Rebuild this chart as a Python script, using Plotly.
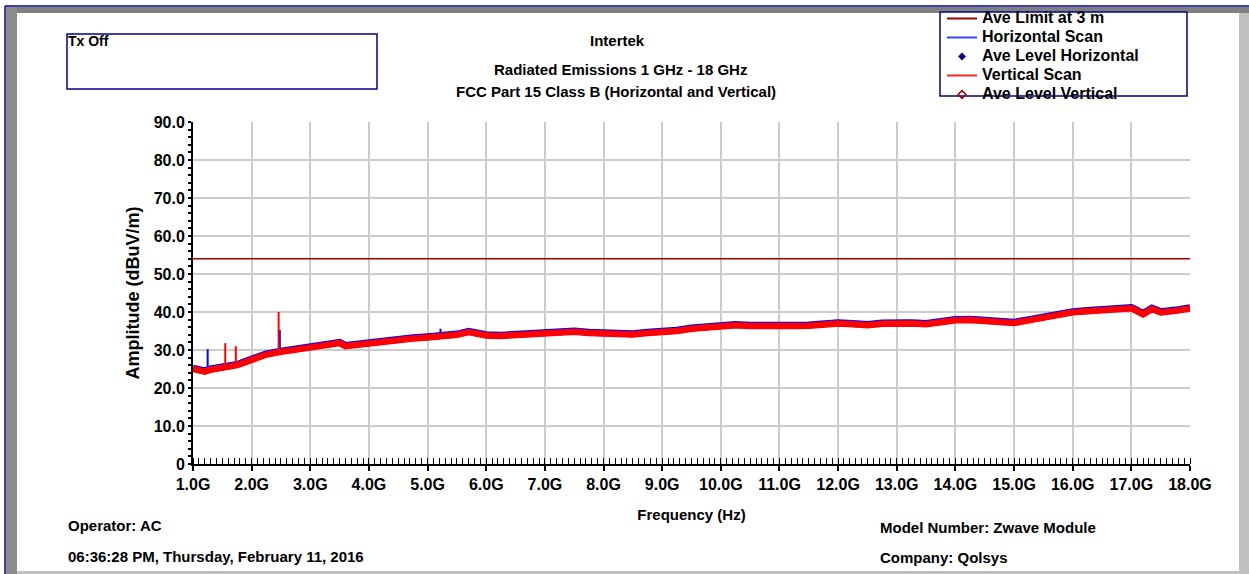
import plotly.graph_objects as go

# frequency points (GHz)
freq_ghz = [1.0, 1.1, 1.2, 1.3, 1.5, 1.75, 2.0, 2.25, 2.5, 2.75,
            3.0, 3.25, 3.5, 3.6, 3.75, 4.0, 4.25, 4.5, 4.75,
            5.0, 5.25, 5.5, 5.7, 6.0, 6.25, 6.5, 6.75,
            7.0, 7.25, 7.5, 7.75, 8.0, 8.25, 8.5, 8.75,
            9.0, 9.25, 9.5, 9.75, 10.0, 10.25, 10.5, 10.75,
            11.0, 11.25, 11.5, 11.75, 12.0, 12.25, 12.5, 12.75,
            13.0, 13.25, 13.5, 13.75, 14.0, 14.25, 14.5, 14.75,
            15.0, 15.25, 15.5, 15.75, 16.0, 16.25, 16.5, 16.75,
            17.0, 17.1, 17.2, 17.35, 17.5, 17.75, 18.0]

vert_dbuv = [25.0, 24.6, 24.3, 24.8, 25.2, 26.0, 27.4, 28.8, 29.5, 30.0,
             30.6, 31.0, 31.8, 31.0, 31.3, 31.9, 32.3, 32.8, 33.0,
             33.3, 33.6, 34.0, 34.7, 33.8, 33.7, 34.0, 34.3,
             34.5, 34.6, 34.8, 34.5, 34.4, 34.3, 34.1, 34.5,
             34.6, 35.0, 35.6, 36.0, 36.4, 36.5, 36.3, 36.2,
             36.1, 36.3, 36.4, 36.7, 37.0, 36.8, 36.5, 36.9,
             37.1, 37.0, 36.8, 37.4, 37.8, 37.9, 37.6, 37.3,
             37.1, 37.8, 38.6, 39.3, 39.9, 40.2, 40.4, 40.6,
             41.0, 40.2, 39.4, 40.8, 39.9, 40.3, 40.9]

horiz_dbuv = [25.2, 24.8, 24.5, 25.0, 25.4, 26.2, 27.6, 29.0, 29.7, 30.2,
              30.8, 31.2, 32.0, 31.2, 31.5, 32.1, 32.5, 33.0, 33.2,
              33.5, 33.8, 34.2, 34.9, 34.0, 33.9, 34.2, 34.5,
              34.7, 34.8, 35.0, 34.7, 34.6, 34.5, 34.3, 34.7,
              34.8, 35.2, 35.8, 36.2, 36.6, 36.7, 36.5, 36.4,
              36.3, 36.5, 36.6, 36.9, 37.2, 37.0, 36.7, 37.1,
              37.3, 37.2, 37.0, 37.6, 38.0, 38.1, 37.8, 37.5,
              37.3, 38.0, 38.8, 39.5, 40.1, 40.4, 40.6, 40.8,
              41.2, 40.4, 39.6, 41.0, 40.1, 40.5, 41.1]

# narrow spurs sticking out of the scans
vert_spike_ghz = [1.55, 1.73, 2.46]
vert_spike_base = [25.2, 25.9, 29.3]
vert_spike_peak = [31.8, 31.0, 40.0]
horiz_spike_ghz = [1.25, 2.48, 5.22]
horiz_spike_base = [24.6, 29.6, 33.8]
horiz_spike_peak = [30.2, 35.3, 35.6]

limit_ghz = [1.0, 18.0]
limit_dbuv = [54.0, 54.0]

x_ticks = list(range(1, 19))
x_labels = ["%.1fG" % v for v in x_ticks]
y_ticks = [0, 10, 20, 30, 40, 50, 60, 70, 80, 90]
y_labels = ["0"] + ["%.1f" % v for v in y_ticks[1:]]

# plot area in pixels
L, R, T, B = 193, 1190, 122, 464


def px(x):
    return (x - L) / (R - L)


def py(y):
    return (B - y) / (B - T)


FONT = "Liberation Sans, Arial, sans-serif"


def spike_xy(fs, lo, hi):
    xs, ys = [], []
    for f, a, b in zip(fs, lo, hi):
        xs += [f, f, None]
        ys += [a, b, None]
    return xs, ys


fig = go.Figure()

fig.add_trace(go.Scatter(x=freq_ghz, y=horiz_dbuv, mode="lines",
                         line=dict(color="#0000ff", width=7),
                         showlegend=False, hoverinfo="skip"))
hx, hy = spike_xy(horiz_spike_ghz, horiz_spike_base, horiz_spike_peak)
fig.add_trace(go.Scatter(x=hx, y=hy, mode="lines",
                         line=dict(color="#0000ff", width=2),
                         showlegend=False, hoverinfo="skip"))
fig.add_trace(go.Scatter(x=freq_ghz, y=vert_dbuv, mode="lines",
                         line=dict(color="#ff0000", width=6.5),
                         showlegend=False, hoverinfo="skip"))
vx, vy = spike_xy(vert_spike_ghz, vert_spike_base, vert_spike_peak)
fig.add_trace(go.Scatter(x=vx, y=vy, mode="lines",
                         line=dict(color="#ff0000", width=2),
                         showlegend=False, hoverinfo="skip"))
fig.add_trace(go.Scatter(x=limit_ghz, y=limit_dbuv, mode="lines",
                         line=dict(color="#990000", width=1.5),
                         showlegend=False, hoverinfo="skip"))


# legend entries
def leg(name):
    return "<span style='font-size:16px'>%s</span>" % name


fig.add_trace(go.Scatter(x=[None], y=[None], mode="lines", name=leg("Ave Limit at 3 m"),
                         line=dict(color="#990000", width=2)))
fig.add_trace(go.Scatter(x=[None], y=[None], mode="lines", name=leg("Horizontal Scan"),
                         line=dict(color="#3344ff", width=2)))
fig.add_trace(go.Scatter(x=[None], y=[None], mode="markers", name=leg("Ave Level Horizontal"),
                         marker=dict(symbol="diamond", color="#00008b", size=6)))
fig.add_trace(go.Scatter(x=[None], y=[None], mode="lines", name=leg("Vertical Scan"),
                         line=dict(color="#ff2222", width=2)))
fig.add_trace(go.Scatter(x=[None], y=[None], mode="markers", name=leg("Ave Level Vertical"),
                         marker=dict(symbol="diamond-open", color="#990000", size=6,
                                     line=dict(width=1.5))))


def box(x0, x1, y0, y1, **kw):
    d = dict(type="rect", xref="paper", yref="paper",
             x0=px(x0), x1=px(x1), y0=py(y1), y1=py(y0))
    d.update(kw)
    return d


def seg(x0, x1, y0, y1, color, width):
    return dict(type="line", xref="paper", yref="paper",
                x0=px(x0), x1=px(x1), y0=py(y0), y1=py(y1),
                line=dict(color=color, width=width))


shapes = [
    # page frame
    box(6, 1249, 7, 13, fillcolor="#808080", line=dict(width=0)),
    box(6, 17, 7, 574, fillcolor="#8c8c8c", line=dict(width=0)),
    box(1239, 1249, 13, 574, fillcolor="#c0c0c0", line=dict(width=0)),
    box(17, 1239, 571, 574, fillcolor="#c0c0c0", line=dict(width=0)),
    seg(5, 1249, 6, 6, "#00008b", 1.5),
    seg(5, 5, 6, 574, "#00008b", 1.5),
    # Tx Off box and legend box
    box(67, 377, 34, 89, line=dict(color="#00008b", width=1.5),
        fillcolor="rgba(0,0,0,0)"),
    box(940, 1187, 12, 96, line=dict(color="#00008b", width=1.5),
        fillcolor="white"),
]


def note(text, x, y, xanchor="left", size=15):
    return dict(text=text, x=px(x), y=py(y), xref="paper", yref="paper",
                xanchor=xanchor, yanchor="middle", showarrow=False,
                font=dict(family=FONT, size=size, color="black", weight="bold"))


annotations = [
    note("Tx Off", 66, 41, size=14),
    note("Intertek", 617, 41, "center"),
    note("Radiated Emissions 1 GHz - 18 GHz", 620, 70, "center"),
    note("FCC Part 15 Class B (Horizontal and Vertical)", 616, 92, "center"),
    note("Operator: AC", 66, 525),
    note("06:36:28 PM, Thursday, February 11, 2016", 66, 556),
    note("Model Number: Zwave Module", 878, 527),
    note("Company: Qolsys", 878, 557),
]

fig.update_layout(
    width=1249, height=574, autosize=False,
    margin=dict(l=L, r=1249 - R, t=T, b=574 - B, pad=0, autoexpand=False),
    paper_bgcolor="white", plot_bgcolor="white",
    showlegend=True,
    legend=dict(x=px(942), y=py(4), xanchor="left", yanchor="top",
                bgcolor="rgba(0,0,0,0)", borderwidth=0, itemwidth=30,
                font=dict(family=FONT, size=12, color="black", weight="bold")),
    shapes=shapes,
    annotations=annotations,
    xaxis=dict(range=[1, 18], tickmode="array", tickvals=x_ticks, ticktext=x_labels,
               showline=True, linecolor="black", linewidth=2,
               ticks="outside", ticklen=5, tickwidth=2, tickcolor="black",
               showgrid=True, gridcolor="#cccccc", gridwidth=2, zeroline=False,
               minor=dict(tick0=1, dtick=0.1, ticks="inside", ticklen=6,
                          tickwidth=1, tickcolor="black", showgrid=False),
               tickfont=dict(family=FONT, size=16, color="black", weight="bold"),
               title=dict(text="Frequency (Hz)", standoff=17,
                          font=dict(family=FONT, size=15, color="black", weight="bold"))),
    xaxis2=dict(range=[1, 18], overlaying="x", anchor="y", side="bottom",
                tickmode="array", tickvals=x_ticks, ticks="inside", ticklen=7,
                tickwidth=2, tickcolor="black", showticklabels=False,
                showgrid=False, zeroline=False, showline=False),
    yaxis=dict(range=[0, 90], tickmode="array", tickvals=y_ticks, ticktext=y_labels,
               showline=True, linecolor="black", linewidth=2,
               ticks="outside", ticklen=3, tickwidth=2, tickcolor="black",
               showgrid=True, gridcolor="#cccccc", gridwidth=2, zeroline=False,
               minor=dict(tick0=0, dtick=2, ticks="outside", ticklen=3,
                          tickwidth=1.5, tickcolor="black", showgrid=False),
               tickfont=dict(family=FONT, size=16, color="black", weight="bold"),
               title=dict(text="Amplitude (dBuV/m)", standoff=9,
                          font=dict(family=FONT, size=18, color="black", weight="bold"))),
    yaxis2=dict(range=[0, 90], overlaying="y", anchor="x", side="left",
                tickmode="array", tickvals=y_ticks, ticks="inside", ticklen=5,
                tickwidth=2, tickcolor="black", showticklabels=False,
                showgrid=False, zeroline=False, showline=False,
                minor=dict(tick0=0, dtick=2, ticks="inside", ticklen=4,
                           tickwidth=1.5, tickcolor="black")),
)

fig.write_html("out.html", config={"displayModeBar": False},
               post_script="document.body.style.margin='0px';")
